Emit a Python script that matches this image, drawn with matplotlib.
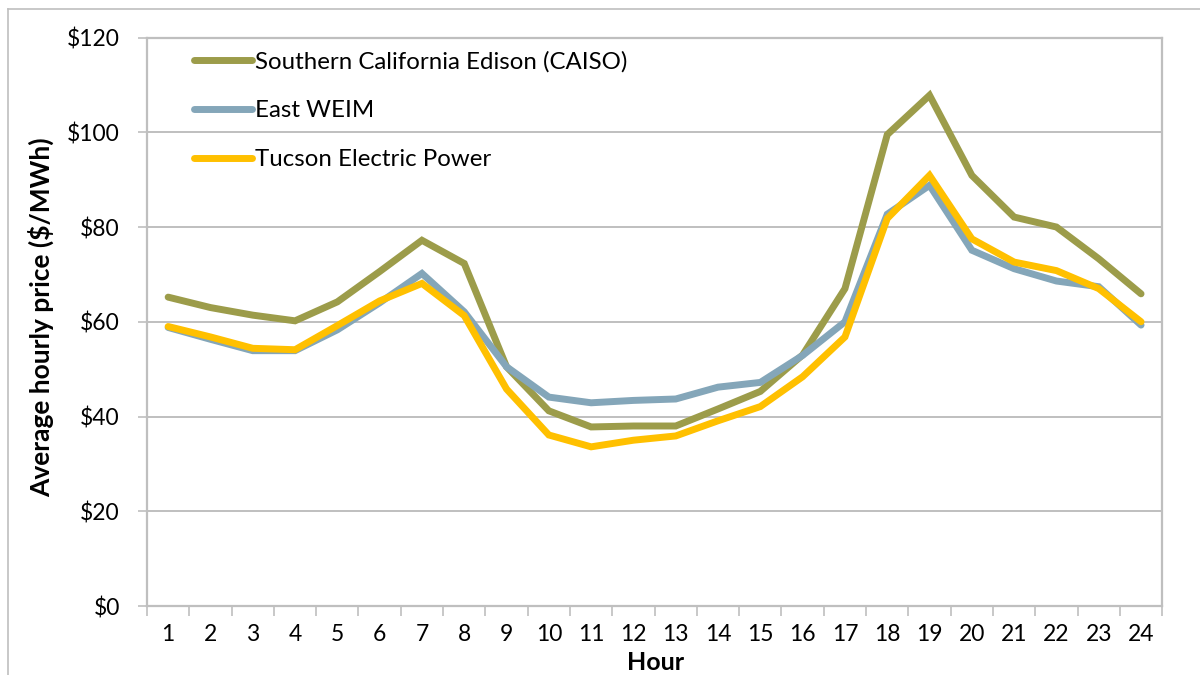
import matplotlib.pyplot as plt
from matplotlib.lines import Line2D

#%% Data.
hours = list(range(1, 25))
sce = [65.2, 63.0, 61.4, 60.2, 64.2, 70.6, 77.2, 72.3, 50.5, 41.2, 37.8, 38.0,
       38.0, 41.6, 45.3, 53.0, 67.0, 99.5, 107.8, 90.9, 82.1, 80.0, 73.3, 65.9]
east_weim = [58.8, 56.3, 53.9, 53.9, 58.3, 64.0, 70.2, 62.1, 50.5, 44.1, 42.9, 43.4,
             43.7, 46.2, 47.2, 52.9, 60.0, 82.7, 88.8, 75.1, 71.2, 68.6, 67.4, 59.3]
tep = [59.0, 56.8, 54.4, 54.1, 59.2, 64.4, 68.1, 61.3, 45.8, 36.1, 33.6, 35.0,
       35.9, 39.1, 42.1, 48.4, 56.8, 81.8, 90.9, 77.5, 72.6, 70.8, 67.0, 60.0]
series_names = ["Southern California Edison (CAISO)", "East WEIM", "Tucson Electric Power"]
series_colors = ["#9C9C4A", "#84A6B9", "#FFC000"]
y_ticks = [0, 20, 40, 60, 80, 100, 120]
y_ticklabels = ["$0", "$20", "$40", "$60", "$80", "$100", "$120"]

#%% Figure setup.
plt.rcParams['font.family'] = ['Lato', 'DejaVu Sans']
grid_col = "#BFBFBF"

fig = plt.figure(figsize=(12, 6.75), dpi=100)
ax = fig.add_axes([0.1225, 0.1022, 0.846, 0.8422])

for vals, name, col in zip([sce, east_weim, tep], series_names, series_colors):
    ax.plot(hours, vals, color=col, lw=5.0, solid_capstyle='round',
            solid_joinstyle='miter', label=name)

ax.set_xlim(0.5, 24.5)
ax.set_ylim(0, 120)
ax.set_yticks(y_ticks)
ax.set_yticklabels(y_ticklabels)
ax.set_xticks(hours)
ax.set_xticks([h + 0.5 for h in range(0, 25)], minor=True)
ax.tick_params(axis='x', which='major', length=0, pad=13, labelsize=16.5)
ax.tick_params(axis='x', which='minor', length=7, width=1.2, color=grid_col, direction='out')
ax.tick_params(axis='y', length=6.5, width=1.2, color=grid_col, pad=13, labelsize=16.5)
ax.yaxis.grid(True, color=grid_col, lw=1.4)
ax.set_axisbelow(True)
for s in ax.spines.values():
    s.set_color(grid_col)
    s.set_linewidth(1.6)

# axis titles
fig.text(0.034, 0.53, "Average hourly price ($/MWh)", rotation=90, ha='center',
         va='center', fontsize=19, fontweight='bold')
fig.text(0.546, 0.019, "Hour", ha='center', va='center', fontsize=18, fontweight='bold')

# legend
ax.legend(loc='upper left', bbox_to_anchor=(0.0463, 0.977), frameon=False,
          fontsize=17.3, handlelength=2.4, handletextpad=0.12, labelspacing=1.17,
          borderpad=0, borderaxespad=0)

# outer chart frame (left + top edges only are visible)
fig.add_artist(Line2D([7.5 / 1200, 7.5 / 1200], [0, 1 - 9 / 675], color=grid_col, lw=1.2))
fig.add_artist(Line2D([7.5 / 1200, 1], [1 - 9 / 675, 1 - 9 / 675], color=grid_col, lw=1.2))

fig.savefig("out.png", dpi=100)
